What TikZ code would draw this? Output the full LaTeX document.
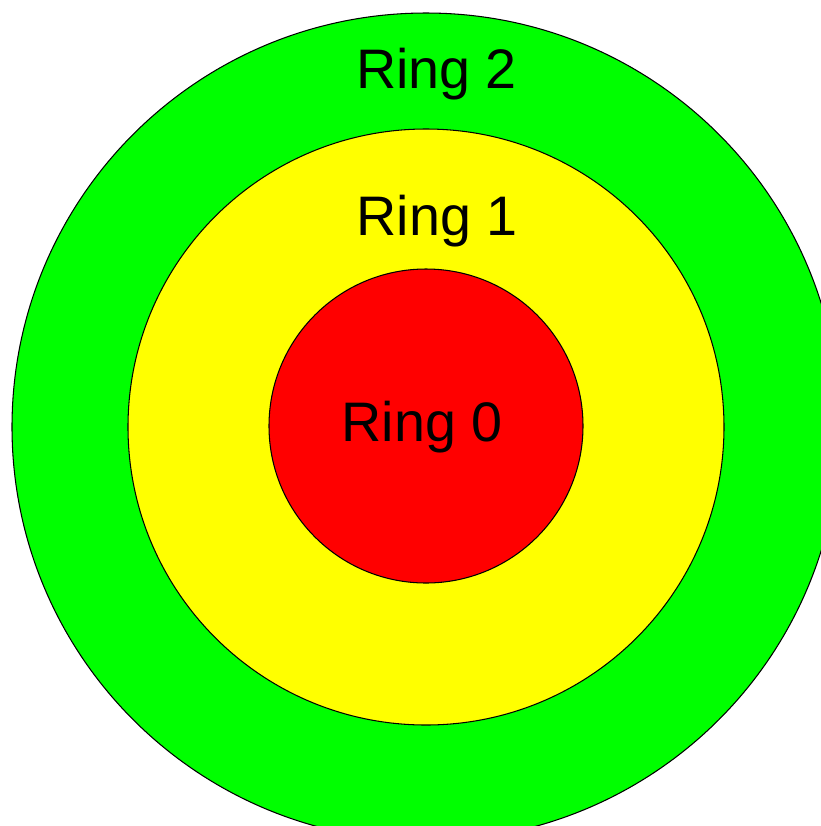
\documentclass[tikz,border=0pt]{standalone}
\usepackage{fontspec}
\setmainfont{Liberation Sans}
\usepackage{tikz}
\usepackage{xcolor}

\definecolor{ringgreen}{RGB}{0,255,0}
\definecolor{ringyellow}{RGB}{255,255,0}
\definecolor{ringred}{RGB}{255,0,0}

\tikzset{
  ringlabel/.style={anchor=base, inner sep=0pt, font=\fontsize{31.7}{38}\selectfont}
}

\begin{document}
\begin{tikzpicture}[x=0.02cm, y=-0.02cm]
				\useasboundingbox (0,0) rectangle (821,826);
				\clip (0,0) rectangle (821,826);
				\draw[line width=0.6pt, fill=ringgreen] (426,427) circle (414);
				\draw[line width=0.6pt, fill=ringyellow] (426,427) circle (298);
				\draw[line width=0.6pt, fill=ringred] (426,426) circle (157);
				
				\node[ringlabel] (lbl2) at (436.5,88) {Ring 2};
				\node[ringlabel] (lbl1) at (437,235) {Ring 1};
				\node[ringlabel] (lbl0) at (422,441) {Ring 0};
			\end{tikzpicture}
\end{document}
